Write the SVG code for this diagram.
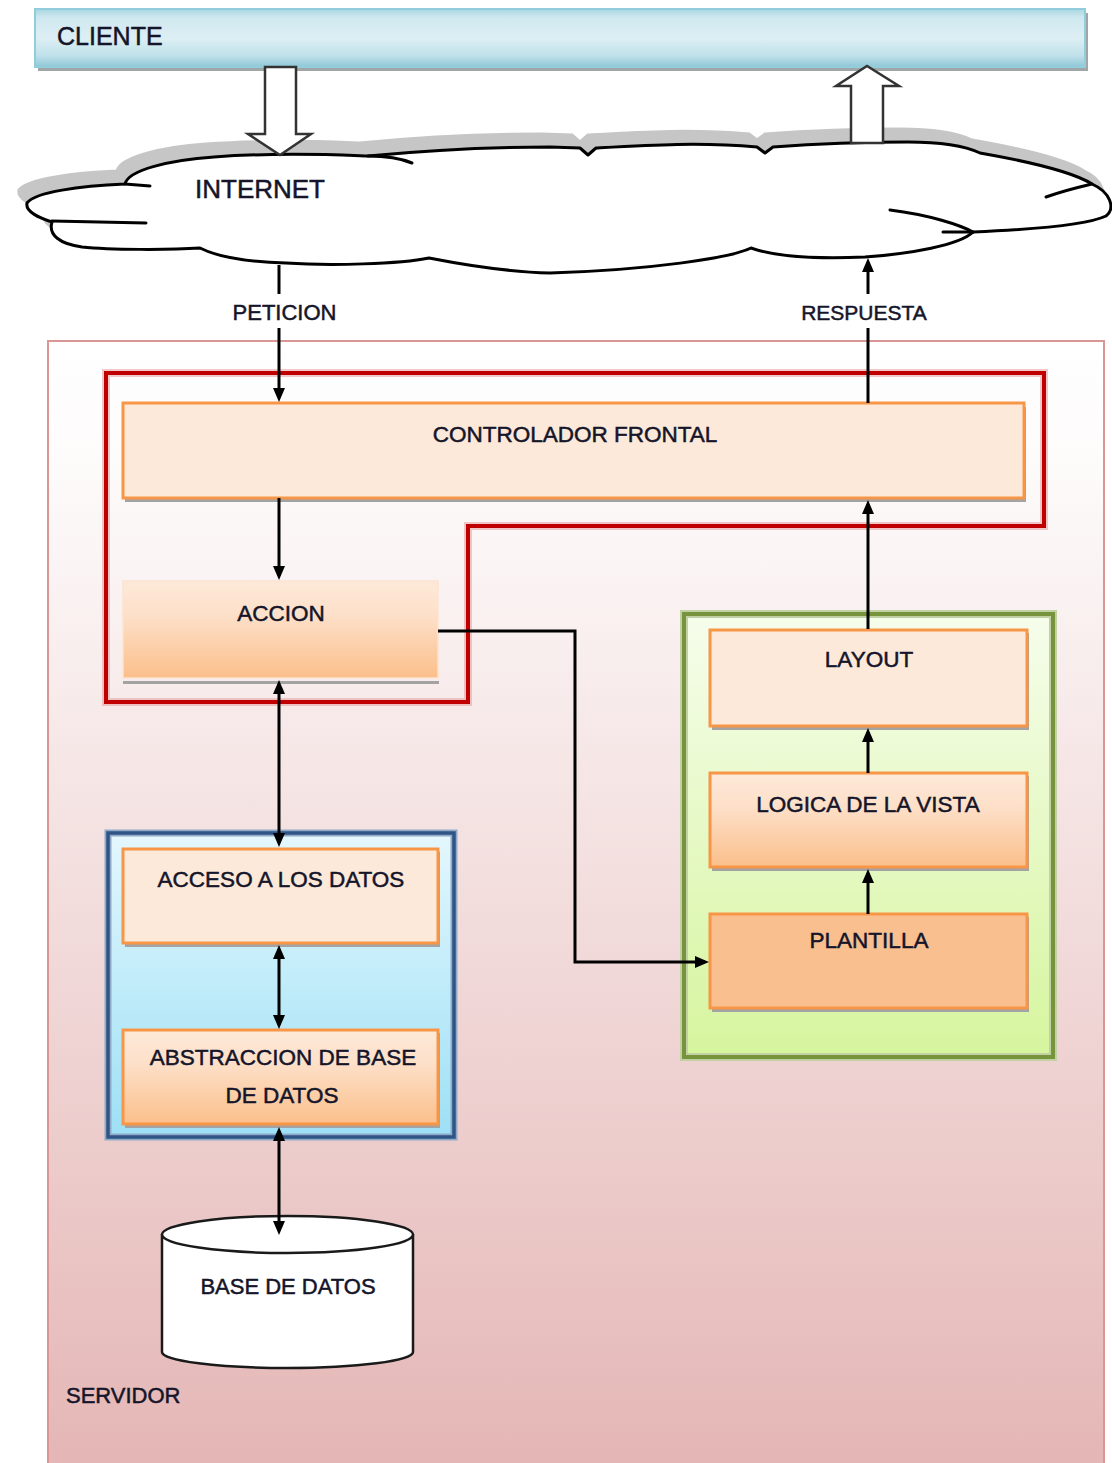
<svg xmlns="http://www.w3.org/2000/svg" xmlns:xlink="http://www.w3.org/1999/xlink" width="1112" height="1463" viewBox="0 0 1112 1463">
  <style>
    text { font-family: "Liberation Sans", Arial, sans-serif; fill: #15152a; stroke: #15152a; stroke-width: 0.5px; }
    .lbl { font-size: 22.5px; text-anchor: middle; }
    .box { fill: #fde9d9; stroke: #f79646; stroke-width: 3; }
    .boxg { fill: url(#gOrange); stroke: #f79646; stroke-width: 3; }
    .shadow { fill: #a3a3a3; }
    .conn { fill: none; stroke: #000; stroke-width: 3; }
    .hollow { fill: #fff; stroke: #333; stroke-width: 2.5; stroke-linejoin: miter; }
  </style>
  <defs>
    <linearGradient id="gClient" x1="0" y1="0" x2="0" y2="1">
      <stop offset="0" stop-color="#a9d7e3"/>
      <stop offset="0.15" stop-color="#cfe8ef"/>
      <stop offset="0.5" stop-color="#ddeff4"/>
      <stop offset="0.8" stop-color="#c0e1ea"/>
      <stop offset="1" stop-color="#8fc7d6"/>
    </linearGradient>
    <linearGradient id="gServ" x1="0" y1="0" x2="0" y2="1">
      <stop offset="0" stop-color="#ffffff"/>
      <stop offset="0.12" stop-color="#fdfafa"/>
      <stop offset="1" stop-color="#e4b6b5"/>
    </linearGradient>
    <linearGradient id="gOrange" x1="0" y1="0" x2="0" y2="1">
      <stop offset="0" stop-color="#fde9d9"/>
      <stop offset="0.35" stop-color="#fde0c9"/>
      <stop offset="1" stop-color="#fbbf8b"/>
    </linearGradient>
    <linearGradient id="gBlue" x1="0" y1="0" x2="0" y2="1">
      <stop offset="0" stop-color="#e4f7fd"/>
      <stop offset="1" stop-color="#9de0f6"/>
    </linearGradient>
    <linearGradient id="gGreen" x1="0" y1="0" x2="0" y2="1">
      <stop offset="0" stop-color="#f6fdec"/>
      <stop offset="1" stop-color="#d6f59e"/>
    </linearGradient>
    <marker id="head" markerUnits="userSpaceOnUse" markerWidth="14" markerHeight="12" refX="10" refY="6" orient="auto-start-reverse" overflow="visible">
      <path d="M0,0 L14,6 L0,12 Z" fill="#000"/>
    </marker>
    <!-- outline of the internet cloud -->
    <path id="cloudShape" d="M27,203 C35,192 80,186 125,184 C128,170 170,160 214,157 C280,152 340,155 368,156 C430,150 500,147 550,147 L580,148 L588,155 L596,148 C650,145 700,142 757,147 L765,153 L773,147 C800,145 850,142 908,142 C940,142 965,146 980,153 C1020,160 1070,170 1092,184 C1110,192 1116,208 1106,216 C1085,226 1020,230 973,232 C960,245 910,254 865,257 C820,259 780,258 751,248 C730,258 650,270 550,273 C510,272 475,267 429,258 C400,264 330,266 286,263 C250,262 220,258 200,248 C170,250 110,250 82,247 C60,244 48,235 52,222 C40,218 25,212 27,203 Z"/>
  </defs>

  <!-- server area -->
  <g id="servidor">
    <rect x="48" y="341" width="1056" height="1130" fill="url(#gServ)" stroke="#d99694" stroke-width="2"/>
    <text x="66" y="1403" style="font-size:22px">SERVIDOR</text>
  </g>

  <!-- client bar -->
  <g id="cliente">
    <rect x="38" y="13" width="1050" height="58" fill="#a0a6a8"/>
    <rect x="35" y="9" width="1050" height="58" fill="url(#gClient)" stroke="#92cddc" stroke-width="2"/>
    <text x="57" y="45" style="font-size:25px">CLIENTE</text>
  </g>

  <!-- internet cloud -->
  <g id="internet">
    <use xlink:href="#cloudShape" transform="translate(-8,-13)" fill="#c6c6c6" stroke="#c6c6c6" stroke-width="3"/>
    <use xlink:href="#cloudShape" fill="#fff" stroke="#000" stroke-width="3" stroke-linejoin="round"/>
    <g fill="none" stroke="#000" stroke-width="3" stroke-linecap="round">
      <path d="M125,184 L150,186"/>
      <path d="M368,156 C385,156 400,158 412,163"/>
      <path d="M52,221 L146,223"/>
      <path d="M1092,184 C1075,188 1060,192 1046,197"/>
      <path d="M973,232 C960,225 930,215 890,210"/>
      <path d="M943,232 L973,232"/>
    </g>
    <text x="195" y="198" style="font-size:26px">INTERNET</text>
  </g>

  <!-- request / response block arrows between client and internet -->
  <g id="flechas-cliente">
    <polygon class="hollow" points="265,67 296,67 296,134 311,134 280,155 248,134 265,134"/>
    <polygon class="hollow" points="851,143 851,86 836,86 867,66 899,86 883,86 883,143"/>
  </g>

  <!-- front controller region -->
  <g id="zona-controlador">
    <path d="M106,373 H1044 V526 H468 V702 H106 Z" fill="none" stroke="#e8a5a5" stroke-width="8" opacity="0.6"/>
    <path d="M106,373 H1044 V526 H468 V702 H106 Z" fill="none" stroke="#c00000" stroke-width="4"/>
  </g>

  <!-- model region -->
  <g id="zona-modelo">
    <rect x="108" y="833" width="346" height="304" fill="url(#gBlue)" stroke="#8fa9c6" stroke-width="7"/>
    <rect x="108" y="833" width="346" height="304" fill="none" stroke="#2f5587" stroke-width="3.5"/>
  </g>

  <!-- view region -->
  <g id="zona-vista">
    <rect x="684" y="614" width="369" height="443" fill="url(#gGreen)" stroke="#c2d1a4" stroke-width="8"/>
    <rect x="684" y="614" width="369" height="443" fill="none" stroke="#77933c" stroke-width="4"/>
  </g>

  <g id="controlador-frontal">
    <rect class="shadow" x="125" y="407" width="901" height="95"/>
    <rect class="box" x="123" y="403" width="901" height="95"/>
    <text class="lbl" x="575" y="442">CONTROLADOR FRONTAL</text>
  </g>

  <g id="accion">
    <rect class="shadow" x="123" y="681" width="316" height="3"/>
    <rect x="123" y="581" width="315" height="97" fill="url(#gOrange)" stroke="#fce3d2" stroke-width="1.5"/>
    <text class="lbl" x="281" y="621">ACCION</text>
  </g>

  <g id="acceso-datos">
    <rect class="shadow" x="125" y="852" width="315" height="95"/>
    <rect class="box" x="123" y="849" width="315" height="94"/>
    <text class="lbl" x="281" y="887">ACCESO A LOS DATOS</text>
  </g>

  <g id="abstraccion-bd">
    <rect class="shadow" x="125" y="1033" width="315" height="95"/>
    <rect class="boxg" x="123" y="1030" width="315" height="94"/>
    <text class="lbl" x="283" y="1065">ABSTRACCION DE BASE</text>
    <text class="lbl" x="282" y="1103">DE DATOS</text>
  </g>

  <g id="base-datos">
    <path d="M162,1234 V1352 A125.5,16 0 0 0 413,1352 V1234" fill="#fff" stroke="#1a1a1a" stroke-width="2.5"/>
    <ellipse cx="287.5" cy="1234.5" rx="125.5" ry="18.5" fill="#fff" stroke="#1a1a1a" stroke-width="2.5"/>
    <text class="lbl" x="288" y="1294" style="font-size:22px">BASE DE DATOS</text>
  </g>

  <g id="layout">
    <rect class="shadow" x="712" y="633" width="317" height="97"/>
    <rect class="box" x="710" y="630" width="317" height="96"/>
    <text class="lbl" x="869" y="667">LAYOUT</text>
  </g>

  <g id="logica-vista">
    <rect class="shadow" x="712" y="776" width="317" height="95"/>
    <rect class="boxg" x="710" y="773" width="317" height="94"/>
    <text class="lbl" x="868" y="812">LOGICA DE LA VISTA</text>
  </g>

  <g id="plantilla">
    <rect class="shadow" x="712" y="917" width="317" height="95"/>
    <rect x="710" y="914" width="317" height="94" fill="#f9bf8f" stroke="#f79646" stroke-width="3"/>
    <text class="lbl" x="869" y="948">PLANTILLA</text>
  </g>

  <!-- connectors -->
  <g id="conectores">
    <path class="conn" d="M279,265 V398" marker-end="url(#head)"/>
    <path class="conn" d="M868,403 V262" marker-end="url(#head)"/>
    <path class="conn" d="M279,498 V576" marker-end="url(#head)"/>
    <path class="conn" d="M868,629 V504" marker-end="url(#head)"/>
    <path class="conn" d="M868,773 V732" marker-end="url(#head)"/>
    <path class="conn" d="M868,914 V873" marker-end="url(#head)"/>
    <path class="conn" d="M279,684 V843" marker-start="url(#head)" marker-end="url(#head)"/>
    <path class="conn" d="M279,949 V1025" marker-start="url(#head)" marker-end="url(#head)"/>
    <path class="conn" d="M279,1131 V1231" marker-start="url(#head)" marker-end="url(#head)"/>
    <path class="conn" d="M438,631 H575 V962 H705" marker-end="url(#head)"/>
  </g>

  <!-- connector labels -->
  <g id="etiquetas">
    <rect x="226" y="294" width="118" height="34" fill="#fff"/>
    <text x="284.5" y="320" style="font-size:22px;text-anchor:middle">PETICION</text>
    <rect x="796" y="294" width="136" height="34" fill="#fff"/>
    <text x="864" y="320" style="font-size:21px;text-anchor:middle">RESPUESTA</text>
  </g>
</svg>
